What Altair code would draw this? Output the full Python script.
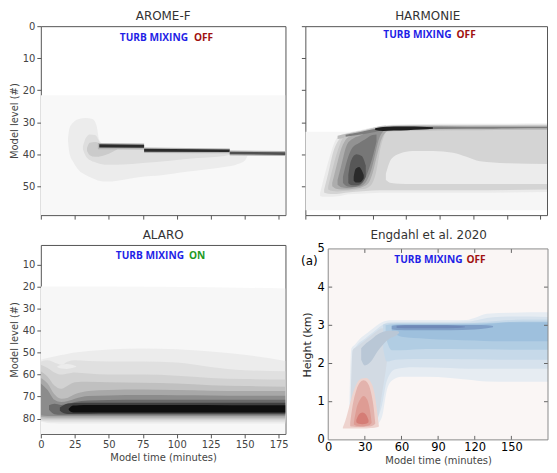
import altair as alt
import pandas as pd

# ---------------- data ----------------
TIME_TICKS = [0, 25, 50, 75, 100, 125, 150, 175]
TIME_TICKS_ENG = [0, 30, 60, 90, 120, 150]
TIME_RULES_ENG = [30, 60, 90, 120, 150]
LEVEL_TICKS_TOP = [0, 10, 20, 30, 40, 50]
LEVEL_TICKS_ALARO = [10, 20, 30, 40, 50, 60, 70, 80]
HEIGHT_TICKS = [0, 1, 2, 3, 4, 5]
HEIGHT_RULES = [1, 2, 3, 4]

# each band: (shade index, time [min], upper boundary, lower boundary)
AROME_PAL = ["#f8f8f8", "#ececec", "#dedede", "#cbcbcb", "#b4b4b4", "#2b2b2b", "#505050"]
AROME_BANDS = [
    (0, [0, 180], [21.6, 21.6], [59, 59]),
    (1, [20, 21, 24, 28, 33, 38, 41, 43, 46, 50, 60, 72, 90, 104, 120, 135, 145, 150, 152],
        [35, 32, 30, 29, 28.7, 29, 31, 35.5, 37, 37.5, 37.8, 38, 38.3, 38.6, 39, 39.3, 39.5, 39.8, 40],
        [36, 39.5, 42.5, 45, 46.5, 47.5, 48, 48.3, 48.5, 48.5, 48, 47.2, 46.5, 45.6, 44.8, 44, 43, 42, 40.5]),
    (2, [31, 33, 36, 40, 44, 50, 60, 75, 95, 115, 135, 142],
        [37.5, 35, 33.8, 34, 36.5, 37.5, 37.8, 38, 38.3, 38.8, 39.3, 39.8],
        [38.5, 40.5, 41.8, 42.5, 43, 43.3, 43.2, 42.7, 42, 41.2, 40.5, 40]),
    (3, [34, 36, 40, 45, 50, 56],
        [38, 36.4, 36.2, 36.8, 37.3, 37.7],
        [39, 40.3, 40.8, 40.5, 39.8, 38.5]),
    (4, [42, 76], [36.5, 36.6], [38.4, 38.5]),
    (5, [43, 76], [36.9, 37.0], [37.9, 38.0]),
    (4, [76, 139], [37.9, 38.2], [39.6, 39.7]),
    (5, [76, 139], [38.3, 38.5], [39.2, 39.3]),
    (4, [139, 180], [38.8, 39.0], [40.4, 40.5]),
    (6, [139, 180], [39.2, 39.4], [40.0, 40.2]),
]

HARM_PAL = ["#f6f6f6", "#ebebeb", "#d4d4d4", "#ececec", "#c6c6c6", "#adadad", "#929292",
            "#777777", "#575757", "#2a2a2a", "#bdbdbd", "#7c7c7c", "#1e1e1e"]
HARM_BANDS = [
    (0, [0, 180], [33, 33], [57.5, 57.5]),
    (1, [11, 14, 18, 22, 26, 32, 40, 48, 56, 65, 80, 120, 180],
        [52, 47, 41, 36, 34, 33.3, 32.6, 31.8, 31.2, 30.8, 30.6, 30.5, 30.4],
        [53, 53.3, 53.3, 53.2, 53, 52.5, 52.3, 52.2, 52, 52, 52, 52, 51.8]),
    (2, [14, 17, 21, 25, 30, 40, 50, 60, 80, 120, 180],
        [51, 46, 39, 35.5, 34, 33, 32.2, 31.3, 31, 30.9, 30.8],
        [52, 52.3, 52.4, 52.3, 52, 51.6, 51.3, 51.2, 51.2, 51.2, 51]),
    (3, [60, 64, 70, 80, 95, 110, 120, 130, 150, 180],
        [46, 41.5, 39.8, 39, 39, 39.5, 40.8, 42.2, 42.8, 43],
        [48, 49, 49.2, 49.3, 49.3, 49.3, 49.3, 49.3, 49.3, 49.3]),
    (10, [24, 35, 45, 55, 65, 90, 130, 180],
        [34.2, 33.2, 32.4, 31.5, 31.0, 30.9, 31.0, 31.0],
        [35.2, 34.6, 34.0, 33.2, 32.8, 32.6, 32.5, 32.4]),
    (4, [17, 20, 24, 28, 34, 40, 46, 50, 53, 56, 60],
        [50, 45, 39, 35, 33.6, 33, 32.3, 31.8, 31.5, 31.2, 31.0],
        [51, 51.5, 51.6, 51.5, 51.3, 51, 50.5, 49, 45, 38, 33]),
    (5, [20, 23, 27, 31, 36, 42, 47, 50, 53, 57, 62],
        [49, 44, 38, 35, 34, 33.2, 32.5, 32.1, 31.8, 31.4, 31.2],
        [50, 50.8, 51, 51, 50.8, 50.3, 49, 46, 41, 35, 32.5]),
    (6, [24, 27, 31, 36, 42, 46, 49, 52, 55, 60],
        [48, 43, 37, 35, 34, 33, 32.6, 32.3, 32.0, 31.6],
        [49.5, 50.3, 50.5, 50.3, 49.8, 48, 45, 40, 35, 32.3]),
    (7, [28, 31, 35, 40, 44, 47, 50, 53],
        [47, 42, 38, 36.5, 35.5, 34.6, 34, 33.8],
        [49, 50, 50.2, 49.8, 48, 45, 41, 36]),
    (8, [32, 34, 38, 42, 45],
        [46.5, 42, 40, 40.5, 43.5],
        [49, 49.6, 49.7, 49, 47]),
    (9, [36, 37.5, 40, 42, 43.5],
        [47, 44.5, 44, 45, 46.5],
        [48.3, 48.8, 48.8, 48.4, 47.5]),
    (11, [30, 40, 50, 58, 70, 100, 140, 180],
        [33.9, 33.1, 32.3, 31.6, 31.3, 31.3, 31.4, 31.4],
        [34.5, 33.9, 33.2, 32.5, 32.3, 32.1, 32.0, 31.9]),
    (12, [52, 58, 66, 76, 86, 95],
        [31.9, 31.5, 31.3, 31.3, 31.4, 31.6],
        [32.4, 32.7, 32.6, 32.5, 32.3, 32]),
]

ALARO_PAL = ["#f7f7f7", "#ececec", "#e0e0e0", "#d2d2d2", "#c0c0c0", "#a8a8a8",
             "#8c8c8c", "#6a6a6a", "#404040", "#0f0f0f"]
ALARO_T = [0, 5, 10, 15, 20, 25, 35, 50, 75, 100, 125, 150, 180]
ALARO_T7 = [6, 10, 15, 20, 25, 35, 50, 75, 100, 125, 150, 180]
ALARO_BANDS = [
    (0, [0, 90, 180], [19.9, 20, 20.8], [87, 87, 87]),
    (1, ALARO_T, [53.3, 52.5, 51.8, 51.1, 50.5, 50.0, 49.3, 48.6, 48.1, 48.5, 49.5, 51.0, 53.8],
        [81.5, 82, 82.2, 82.3, 82.3, 82.3, 82.3, 82.3, 82.3, 82.3, 82.3, 82.3, 82.3]),
    (2, ALARO_T, [54, 53.5, 54.5, 55.5, 54, 53.5, 53.8, 54, 54, 54.5, 56.5, 58, 58.5],
        [81, 81.4, 81.5, 81.5, 81.5, 81.5, 81.5, 81.5, 81.5, 81.5, 81.5, 81.5, 81.5]),
    (1, [12, 15, 19, 23, 26], [56.3, 55.5, 55.2, 55.5, 56.2], [56.5, 57.2, 57.4, 57, 56.4]),
    (3, ALARO_T, [55.5, 57, 59, 60, 59.5, 59, 59.5, 60, 60, 60.5, 61.5, 62, 62.2],
        [80.5, 80.8, 80.8, 80.8, 80.8, 80.8, 80.8, 80.8, 80.8, 80.8, 80.8, 80.8, 80.8]),
    (4, ALARO_T, [58.5, 61, 65, 66.5, 65, 63.5, 63.3, 63.5, 63.7, 64, 64.8, 65.2, 65.5],
        [80, 80.1, 80.1, 80.1, 80.1, 80.1, 80.1, 80.1, 80.1, 80.1, 80.1, 80.1, 80.1]),
    (5, ALARO_T, [61.5, 64, 69, 71, 70.5, 69, 67.5, 67, 66.8, 67, 67.3, 67.5, 67.5],
        [79.3, 79.5, 79.5, 79.5, 79.5, 79.5, 79.5, 79.5, 79.5, 79.5, 79.5, 79.5, 79.5]),
    (6, ALARO_T, [64, 67, 71.5, 72.5, 72, 71, 69.8, 69.5, 69.3, 69.4, 69.5, 69.6, 69.6],
        [78.5, 78.9, 78.9, 78.9, 78.9, 78.9, 78.9, 78.9, 78.9, 78.9, 78.9, 78.9, 78.9]),
    (7, ALARO_T7, [74, 73.3, 73.8, 73.3, 72.5, 71.8, 71.6, 71.5, 71.5, 71.5, 71.5, 71.5],
        [76, 78, 78.3, 78.3, 78.3, 78.3, 78.3, 78.3, 78.3, 78.3, 78.3, 78.3]),
    (8, [14, 17, 20, 25, 35, 50, 100, 150, 180],
        [75, 73.8, 73.2, 72.9, 72.8, 72.8, 72.8, 72.8, 72.8],
        [76.5, 77.6, 77.9, 77.9, 77.9, 77.8, 77.8, 77.8, 77.8]),
    (9, [20.5, 22, 24, 28, 35, 60, 100, 140, 180],
        [75.5, 74.6, 74.1, 73.9, 73.8, 73.8, 73.8, 73.9, 74.0],
        [76, 76.9, 77.2, 77.3, 77.3, 77.2, 77.2, 77.2, 77.2]),
]

ENG_PAL = ["#e6ecf2", "#d6e2ed", "#c6d9e9", "#b1cde3", "#9ec0dd", "#809fc7", "#6f89b8",
           "#d2dae3", "#b9c7d6", "#eed3ce", "#e3b3ad", "#de9c94", "#d57d76"]
ENG_BANDS = [
    (0, [17, 19, 22, 26, 32, 38, 44, 48, 52, 60, 80, 100, 113, 122, 130, 150, 180],
        [0.5, 2.4, 2.5, 2.65, 2.8, 2.95, 3.08, 3.12, 3.13, 3.13, 3.13, 3.13, 3.14, 3.22, 3.3, 3.33, 3.34],
        [0.4, 0.36, 0.35, 0.35, 0.35, 0.36, 0.6, 1.3, 1.55, 1.65, 1.65, 1.62, 1.58, 1.55, 1.53, 1.52, 1.52]),
    (1, [20, 24, 30, 38, 44, 48, 55, 70, 100, 115, 125, 135, 150, 180],
        [2.3, 2.5, 2.65, 2.85, 3.0, 3.07, 3.09, 3.09, 3.09, 3.1, 3.16, 3.21, 3.23, 3.22],
        [0.5, 0.45, 0.45, 0.5, 0.9, 1.55, 1.85, 1.9, 1.88, 1.86, 1.86, 1.86, 1.86, 1.86]),
    (7, [18, 20, 24, 30, 36, 40, 44, 47, 50],
        [0.6, 2.35, 2.45, 2.6, 2.75, 2.85, 2.92, 2.9, 2.85],
        [0.4, 0.38, 0.37, 0.37, 0.4, 0.5, 1.2, 1.8, 2.5]),
    (2, [45, 48, 55, 70, 100, 120, 140, 160, 180],
        [3.02, 3.05, 3.06, 3.06, 3.06, 3.07, 3.12, 3.15, 3.15],
        [2.4, 2.05, 2.1, 2.12, 2.12, 2.11, 2.1, 2.1, 2.1]),
    (3, [47, 52, 60, 80, 100, 130, 160, 180],
        [3.0, 3.03, 3.04, 3.04, 3.04, 3.06, 3.1, 3.1],
        [2.7, 2.35, 2.35, 2.38, 2.38, 2.37, 2.36, 2.36]),
    (4, [52, 60, 80, 100, 120, 135, 150, 180],
        [3.0, 3.02, 3.02, 3.02, 3.02, 3.05, 3.08, 3.08],
        [2.85, 2.7, 2.65, 2.62, 2.6, 2.58, 2.58, 2.58]),
    (8, [27, 30, 35, 40, 45, 50, 55, 58],
        [2.4, 2.5, 2.62, 2.75, 2.83, 2.86, 2.86, 2.83],
        [2.1, 1.95, 2.05, 2.3, 2.5, 2.65, 2.72, 2.8]),
    (5, [52, 56, 70, 100, 120, 130, 135],
        [2.98, 3.0, 3.01, 3.01, 3.01, 3.0, 2.98],
        [2.9, 2.88, 2.87, 2.87, 2.89, 2.92, 2.95]),
    (6, [56, 70, 90, 105, 112],
        [2.99, 3.0, 3.0, 2.99, 2.97],
        [2.93, 2.92, 2.92, 2.93, 2.95]),
    (9, [12, 14, 17, 20, 23, 27, 31, 35, 38, 40, 41.5],
        [0.33, 0.5, 0.85, 1.2, 1.45, 1.6, 1.62, 1.5, 1.2, 0.75, 0.36],
        [0.3, 0.3, 0.3, 0.3, 0.3, 0.3, 0.3, 0.31, 0.32, 0.33, 0.35]),
    (10, [18, 20, 23, 26, 29, 32, 35, 37, 38.5],
        [0.45, 0.9, 1.3, 1.5, 1.56, 1.5, 1.25, 0.9, 0.45],
        [0.36, 0.35, 0.34, 0.34, 0.34, 0.35, 0.36, 0.38, 0.42]),
    (11, [21, 23, 26, 29, 32, 34, 35.5],
        [0.45, 0.8, 1.05, 1.15, 1.05, 0.8, 0.47],
        [0.4, 0.37, 0.36, 0.36, 0.37, 0.39, 0.44]),
    (12, [23, 25, 28, 31, 33],
        [0.52, 0.66, 0.72, 0.66, 0.52],
        [0.46, 0.42, 0.41, 0.42, 0.46]),
]

# ---------------- styling ----------------
FONT = "DejaVu Sans"
TXT = "#333333"
FRAME = "#555555"
BLUE = "#1f1fe6"
RED = "#a01010"
GREEN = "#1e9a1e"

ONE = pd.DataFrame({"a": [0]})


def bands_layers(bands, pal, xs, ys, xaxis, yaxis):
    layers = []
    for shade, t, top, bot in bands:
        df = pd.DataFrame({"t": t, "top": top, "bot": bot})
        layers.append(
            alt.Chart(df).mark_area(color=pal[shade], interpolate="monotone", clip=True,
                                    strokeWidth=0)
            .encode(x=alt.X("t:Q", scale=xs, axis=xaxis),
                    y=alt.Y("top:Q", scale=ys, axis=yaxis),
                    y2="bot:Q"))
    return layers


def label(x, y, text, color, align):
    return alt.Chart(ONE).mark_text(
        text=text, color=color, font="Open Sans", fontWeight="bold", fontSize=10.2,
        align=align, baseline="middle").encode(x=alt.value(x), y=alt.value(y))


def ptitle(x, y, text):
    return alt.Chart(ONE).mark_text(
        text=text, color=TXT, font=FONT, fontSize=12, align="center",
        baseline="middle").encode(x=alt.value(x), y=alt.value(y))


def gray_axis(values, labels=True, ttl=None):
    return alt.Axis(values=values, labels=labels, domain=False, tickSize=4, tickColor=FRAME,
                    labelFont=FONT, labelFontSize=10, labelColor="#444", labelPadding=2,
                    labelFlush=False, grid=False, titleFont=FONT, titleFontSize=10,
                    titleFontWeight="normal", titleColor="#444", titlePadding=3,
                    title=ttl)


xs_top = alt.Scale(domain=[0, 180], nice=False, zero=False)
ys_top = alt.Scale(domain=[0, 59], reverse=True, nice=False, zero=False)
ys_alaro = alt.Scale(domain=[1, 87], reverse=True, nice=False, zero=False)

W1, W2, H = 246, 243, 190

arome = alt.layer(
    *bands_layers(AROME_BANDS, AROME_PAL, xs_top, ys_top,
                  gray_axis(TIME_TICKS, labels=False), gray_axis(LEVEL_TICKS_TOP, ttl="Model level (#)")),
    label(148, 12, "TURB MIXING", BLUE, "right"),
    label(154, 12, "OFF", RED, "left"),
    ptitle(W1 / 2, -10, "AROME-F"),
).properties(width=W1, height=H, view=alt.ViewBackground(stroke=FRAME, fill="white"))

harmonie = alt.layer(
    *bands_layers(HARM_BANDS, HARM_PAL, xs_top, ys_top,
                  gray_axis(TIME_TICKS, labels=False), gray_axis(LEVEL_TICKS_TOP, labels=False)),
    label(147, 9, "TURB MIXING", BLUE, "right"),
    label(152, 9, "OFF", RED, "left"),
    ptitle(123, -10, "HARMONIE"),
).properties(width=W2, height=H, view=alt.ViewBackground(stroke=FRAME, fill="white"))

alaro = alt.layer(
    *bands_layers(ALARO_BANDS, ALARO_PAL, xs_top, ys_alaro,
                  gray_axis(TIME_TICKS, ttl="Model time (minutes)"),
                  gray_axis(LEVEL_TICKS_ALARO, ttl="Model level (#)")),
    label(144, 11, "TURB MIXING", BLUE, "right"),
    label(149, 11, "ON", GREEN, "left"),
    ptitle(W1 / 2, -10, "ALARO"),
).properties(width=W1, height=H, view=alt.ViewBackground(stroke=FRAME, fill="white"))

# Engdahl panel
EW, EH = 221, 196
xs_eng = alt.Scale(domain=[0, 180], nice=False, zero=False)
ys_eng = alt.Scale(domain=[0, 5], range=[EH, 4], nice=False, zero=False)
eng_xaxis = alt.Axis(values=TIME_TICKS_ENG, ticks=False, domain=False, grid=False, labelFlush=False,
                     labelFont=FONT, labelFontSize=11.5, labelColor="black", labelPadding=2,
                     title="Model time (minutes)", titleFont=FONT, titleFontSize=10,
                     titleFontWeight="normal", titleColor="#444", titlePadding=2)
eng_yaxis = alt.Axis(values=HEIGHT_TICKS, ticks=False, domain=False, grid=False, labelFlush=False,
                     labelFont=FONT, labelFontSize=11.5, labelColor="black", labelPadding=4,
                     title="Height (km)", titleFont=FONT, titleFontSize=11,
                     titleFontWeight="normal", titleColor="#222", titlePadding=5)

eng_bg = alt.Chart(ONE).mark_rect(fill="#faf6f5").encode(
    x=alt.value(0), x2=alt.value(EW), y=alt.value(4), y2=alt.value(EH))
eng_frame = alt.Chart(ONE).mark_rect(fill=None, stroke="#8a8a8a", strokeWidth=1).encode(
    x=alt.value(0), x2=alt.value(EW), y=alt.value(4), y2=alt.value(EH))
xt = pd.DataFrame({"t": TIME_RULES_ENG})
yt = pd.DataFrame({"h": HEIGHT_RULES})
tick_b = alt.Chart(xt).mark_rule(color="#666").encode(
    x=alt.X("t:Q", scale=xs_eng, axis=eng_xaxis), y=alt.value(EH), y2=alt.value(EH - 4))
tick_t = alt.Chart(xt).mark_rule(color="#666").encode(
    x=alt.X("t:Q", scale=xs_eng, axis=eng_xaxis), y=alt.value(4), y2=alt.value(8))
tick_l = alt.Chart(yt).mark_rule(color="#666").encode(
    y=alt.Y("h:Q", scale=ys_eng, axis=eng_yaxis), x=alt.value(0), x2=alt.value(4))
tick_r = alt.Chart(yt).mark_rule(color="#666").encode(
    y=alt.Y("h:Q", scale=ys_eng, axis=eng_yaxis), x=alt.value(EW - 4), x2=alt.value(EW))

engdahl = alt.layer(
    eng_bg,
    *bands_layers(ENG_BANDS, ENG_PAL, xs_eng, ys_eng, eng_xaxis, eng_yaxis),
    tick_b, tick_t, tick_l, tick_r, eng_frame,
    label(135, 15, "TURB MIXING", BLUE, "right"),
    label(139, 15, "OFF", RED, "left"),
    alt.Chart(ONE).mark_text(text="(a)", font=FONT, fontSize=12, color="black",
                             align="center", baseline="middle").encode(
        x=alt.value(-19), y=alt.value(16)),
    ptitle(101, -10, "Engdahl et al. 2020"),
).properties(width=EW, height=EH, view=alt.ViewBackground(stroke=None, fill=None))

row1 = alt.hconcat(arome, harmonie, spacing=14)
row2 = alt.hconcat(alaro, engdahl, spacing=11)
chart = alt.vconcat(row1, row2, spacing=8).properties(
    padding={"left": 0, "top": 0, "right": 0, "bottom": 0},
    background="white",
)

chart.save("out.html", embed_options={"renderer": "svg", "actions": False})
